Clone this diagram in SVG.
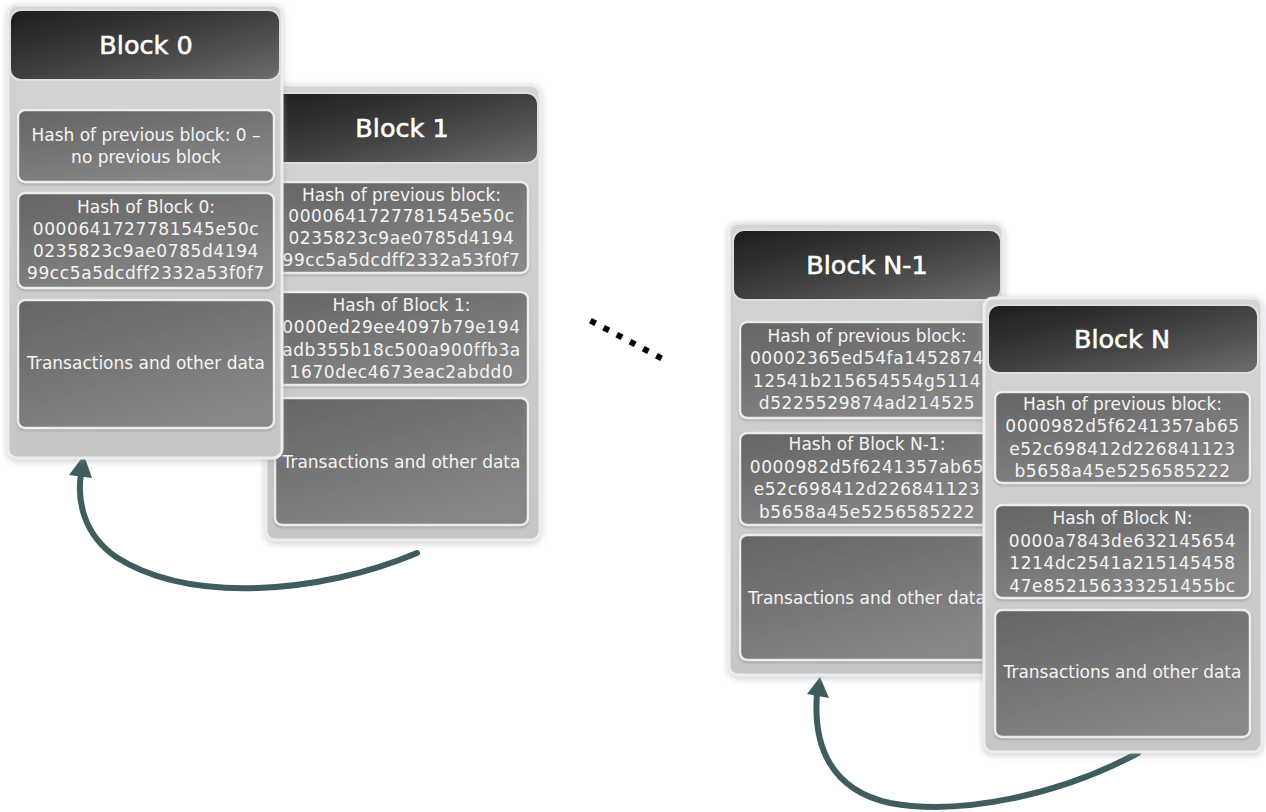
<svg xmlns="http://www.w3.org/2000/svg" width="1266" height="812" viewBox="0 0 1266 812">
  <defs>
    <linearGradient id="gPanel" x1="0" y1="0" x2="0" y2="1">
      <stop offset="0" stop-color="#d4d4d4"/>
      <stop offset="1" stop-color="#c6c6c6"/>
    </linearGradient>
    <linearGradient id="gHead" x1="0" y1="0" x2="1" y2="1">
      <stop offset="0" stop-color="#1c1c1c"/>
      <stop offset="0.55" stop-color="#444"/>
      <stop offset="1" stop-color="#6e6e6e"/>
    </linearGradient>
    <linearGradient id="gCell" x1="0" y1="0" x2="0.6" y2="1">
      <stop offset="0" stop-color="#646464"/>
      <stop offset="1" stop-color="#878787"/>
    </linearGradient>
    <filter id="shadow" x="-10%" y="-10%" width="120%" height="120%">
      <feDropShadow dx="0" dy="2" stdDeviation="3" flood-color="#8a94a8" flood-opacity="0.45"/>
    </filter>
    <filter id="cellShadow" x="-5%" y="-5%" width="110%" height="115%">
      <feDropShadow dx="0" dy="1.5" stdDeviation="1" flood-color="#555" flood-opacity="0.35"/>
    </filter>
  </defs>
  <style>
    .panel { fill: url(#gPanel); stroke: #ededed; stroke-width: 3; filter: url(#shadow); }
    .head { fill: url(#gHead); stroke: #dedede; stroke-width: 2; }
    .cell { fill: url(#gCell); stroke: #ececec; stroke-width: 2.5; filter: url(#cellShadow); }
    .title { font-family: "DejaVu Sans", "Liberation Sans", sans-serif; font-size: 25.5px; fill: #ffffff; stroke: #ffffff; stroke-width: 0.6; text-anchor: middle; }
    .txt { font-family: "DejaVu Sans", "Liberation Sans", sans-serif; font-size: 17px; fill: #f4f4f4; text-anchor: middle; }
    .hex { letter-spacing: 0.6px; }
    .link { fill: none; stroke: #3f5d5d; stroke-width: 6; stroke-linecap: round; }
    .tip { fill: #3f5d5d; }
  </style>

  <rect width="1266" height="812" fill="#ffffff"/>

  <!-- back-references between blocks and the ellipsis -->
  <g id="connectors">
    <path class="link" d="M417,553 C320,594 190,604 116,557 C83,534 77,500 81,474"/>
    <polygon class="tip" points="84,455 69,475 92,478"/>
    <path class="link" d="M1138,753 C1060,795 960,816 890,803 C830,790 813,745 817,694"/>
    <polygon class="tip" points="820,677 807,694 829,698"/>
    <line x1="590.4" y1="320.6" x2="661.6" y2="358.4" stroke="#000" stroke-width="6" stroke-dasharray="6 8.94"/>
  </g>

  <!-- Block 1 -->
  <g id="block1">
    <rect class="panel" x="266" y="85" width="274" height="455" rx="9"/>
    <rect class="head" x="270" y="93" width="268" height="70" rx="11"/>
    <text class="title" x="402" y="137">Block 1</text>
    <rect class="cell" x="275" y="182" width="253" height="91" rx="7"/>
    <text class="txt" x="401.5" y="201">Hash of previous block:</text>
    <text class="txt hex" x="401.5" y="222">0000641727781545e50c</text>
    <text class="txt hex" x="401.5" y="244">0235823c9ae0785d4194</text>
    <text class="txt hex" x="401.5" y="266">99cc5a5dcdff2332a53f0f7</text>
    <rect class="cell" x="275" y="292" width="253" height="93" rx="7"/>
    <text class="txt" x="401.5" y="311">Hash of Block 1:</text>
    <text class="txt hex" x="401.5" y="333">0000ed29ee4097b79e194</text>
    <text class="txt hex" x="401.5" y="356">adb355b18c500a900ffb3a</text>
    <text class="txt hex" x="401.5" y="378">1670dec4673eac2abdd0</text>
    <rect class="cell" x="275" y="398" width="253" height="127" rx="7"/>
    <text class="txt" x="401.5" y="468">Transactions and other data</text>
  </g>

  <!-- Block 0 -->
  <g id="block0">
    <rect class="panel" x="8" y="5" width="274" height="453" rx="9"/>
    <rect class="head" x="10" y="10" width="270" height="70" rx="11"/>
    <text class="title" x="146" y="54">Block 0</text>
    <rect class="cell" x="18" y="110" width="256" height="72" rx="7"/>
    <text class="txt" x="146" y="141">Hash of previous block: 0 –</text>
    <text class="txt" x="146" y="163">no previous block</text>
    <rect class="cell" x="18" y="193" width="256" height="95" rx="7"/>
    <text class="txt" x="146" y="213">Hash of Block 0:</text>
    <text class="txt hex" x="146" y="235">0000641727781545e50c</text>
    <text class="txt hex" x="146" y="257">0235823c9ae0785d4194</text>
    <text class="txt hex" x="146" y="279">99cc5a5dcdff2332a53f0f7</text>
    <rect class="cell" x="18" y="300" width="256" height="128" rx="7"/>
    <text class="txt" x="146" y="369">Transactions and other data</text>
  </g>

  <!-- Block N-1 -->
  <g id="blockN-1">
    <rect class="panel" x="729" y="223" width="274" height="452" rx="9"/>
    <rect class="head" x="733" y="230" width="268" height="70" rx="11"/>
    <text class="title" x="867" y="274">Block N-1</text>
    <rect class="cell" x="740" y="322" width="254" height="96" rx="7"/>
    <text class="txt" x="867" y="342">Hash of previous block:</text>
    <text class="txt hex" x="867" y="364">00002365ed54fa1452874</text>
    <text class="txt hex" x="867" y="387">12541b215654554g5114</text>
    <text class="txt hex" x="867" y="409">d5225529874ad214525</text>
    <rect class="cell" x="740" y="433" width="254" height="92" rx="7"/>
    <text class="txt" x="867" y="450">Hash of Block N-1:</text>
    <text class="txt hex" x="867" y="473">0000982d5f6241357ab65</text>
    <text class="txt hex" x="867" y="495">e52c698412d226841123</text>
    <text class="txt hex" x="867" y="518">b5658a45e5256585222</text>
    <rect class="cell" x="740" y="535" width="254" height="125" rx="7"/>
    <text class="txt" x="867" y="604">Transactions and other data</text>
  </g>

  <!-- Block N -->
  <g id="blockN">
    <rect class="panel" x="984" y="298" width="278" height="454" rx="9"/>
    <rect class="head" x="988" y="305" width="270" height="68" rx="11"/>
    <text class="title" x="1122" y="348">Block N</text>
    <rect class="cell" x="995" y="392" width="255" height="91" rx="7"/>
    <text class="txt" x="1122.5" y="410">Hash of previous block:</text>
    <text class="txt hex" x="1122.5" y="432">0000982d5f6241357ab65</text>
    <text class="txt hex" x="1122.5" y="455">e52c698412d226841123</text>
    <text class="txt hex" x="1122.5" y="477">b5658a45e5256585222</text>
    <rect class="cell" x="995" y="505" width="255" height="93" rx="7"/>
    <text class="txt" x="1122.5" y="524">Hash of Block N:</text>
    <text class="txt hex" x="1122.5" y="547">0000a7843de632145654</text>
    <text class="txt hex" x="1122.5" y="569">1214dc2541a215145458</text>
    <text class="txt hex" x="1122.5" y="592">47e852156333251455bc</text>
    <rect class="cell" x="995" y="610" width="255" height="127" rx="7"/>
    <text class="txt" x="1122.5" y="678">Transactions and other data</text>
  </g>
</svg>
